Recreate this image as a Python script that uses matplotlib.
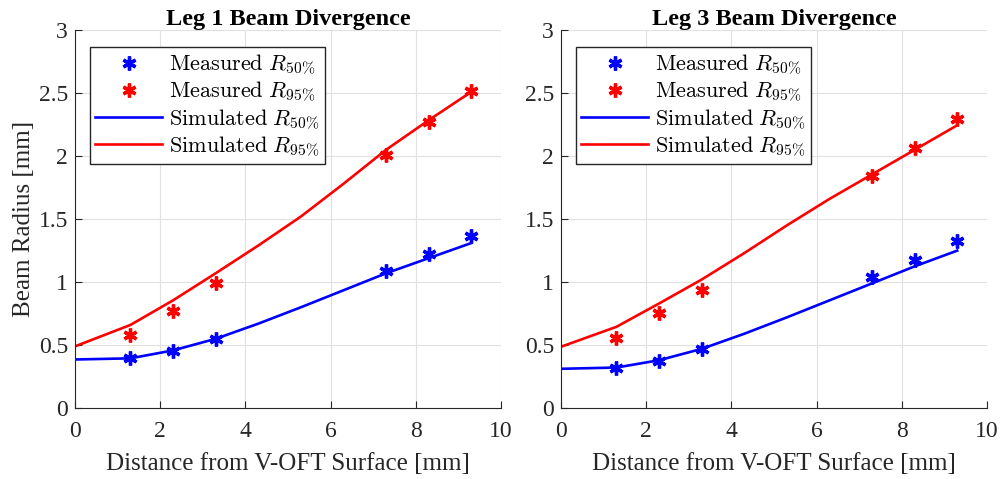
import matplotlib
matplotlib.use("Agg")
from matplotlib import pyplot as plt

plt.rcParams['font.family'] = ['Liberation Serif', 'DejaVu Serif']
plt.rcParams['mathtext.fontset'] = 'cm'

# measured positions and radii
x_meas = [1.3, 2.3, 3.3, 7.3, 8.3, 9.3]
leg1_r50_meas = [0.40, 0.452, 0.548, 1.085, 1.225, 1.365]
leg1_r95_meas = [0.578, 0.77, 0.995, 2.008, 2.27, 2.52]
leg3_r50_meas = [0.316, 0.37, 0.47, 1.04, 1.178, 1.325]
leg3_r95_meas = [0.56, 0.755, 0.94, 1.84, 2.062, 2.295]

# simulated curves
x_sim = [0, 1.3, 2.3, 3.3, 4.3, 5.3, 6.3, 7.3, 8.3, 9.3]
leg1_r50_sim = [0.386, 0.395, 0.458, 0.55, 0.67, 0.8, 0.935, 1.07, 1.19, 1.31]
leg1_r95_sim = [0.49, 0.66, 0.855, 1.07, 1.29, 1.52, 1.78, 2.05, 2.285, 2.51]
leg3_r50_sim = [0.312, 0.322, 0.38, 0.47, 0.59, 0.72, 0.855, 0.99, 1.125, 1.25]
leg3_r95_sim = [0.487, 0.645, 0.83, 1.02, 1.23, 1.45, 1.66, 1.855, 2.05, 2.245]

titles = ['Leg 1 Beam Divergence', 'Leg 3 Beam Divergence']
labels = [r'$\mathrm{Measured}\ R_{50\%}$', r'$\mathrm{Measured}\ R_{95\%}$',
          r'$\mathrm{Simulated}\ R_{50\%}$', r'$\mathrm{Simulated}\ R_{95\%}$']
panels = [
    (leg1_r50_meas, leg1_r95_meas, leg1_r50_sim, leg1_r95_sim),
    (leg3_r50_meas, leg3_r95_meas, leg3_r50_sim, leg3_r95_sim),
]
lefts = [0.075, 0.561]

fig = plt.figure(figsize=(10, 4.79), dpi=100)

for i in range(2):
    r50m, r95m, r50s, r95s = panels[i]
    ax = fig.add_axes([lefts[i], 0.148, 0.426, 0.789])
    ast = (6, 2, 0)
    ax.plot(x_meas, r50m, linestyle='none', marker=ast, color='#0000ff',
            markersize=10, markeredgewidth=2.4, label=labels[0], zorder=3)
    ax.plot(x_meas, r95m, linestyle='none', marker=ast, color='#ff0000',
            markersize=10, markeredgewidth=2.4, label=labels[1], zorder=3)
    ax.plot(x_sim, r50s, color='#0000ff', linewidth=1.9, label=labels[2])
    ax.plot(x_sim, r95s, color='#ff0000', linewidth=1.9, label=labels[3])

    ax.set_xlim(0, 10)
    ax.set_ylim(0, 3)
    ax.set_xticks([0, 2, 4, 6, 8, 10])
    ax.set_yticks([0, 0.5, 1, 1.5, 2, 2.5, 3])
    ax.set_yticklabels(['0', '0.5', '1', '1.5', '2', '2.5', '3'])
    ax.grid(True, color='#e0e0e0', linewidth=0.8)
    ax.set_axisbelow(True)
    ax.spines['top'].set_visible(False)
    ax.spines['right'].set_visible(False)
    ax.spines['left'].set_color('#262626')
    ax.spines['bottom'].set_color('#262626')
    ax.tick_params(direction='in', labelsize=17, colors='#262626', length=5)
    ax.tick_params(axis='x', pad=9)
    ax.tick_params(axis='y', pad=5)
    ax.set_title(titles[i], fontsize=17.5, fontweight='bold', pad=3)
    ax.set_xlabel('Distance from V-OFT Surface [mm]', fontsize=18, color='#262626', labelpad=8)
    if i == 0:
        ax.set_ylabel('Beam Radius [mm]', fontsize=18, color='#262626', labelpad=3)
    leg = ax.legend(loc='upper left', fontsize=16, frameon=True, fancybox=False,
                    edgecolor='#262626', framealpha=1, borderpad=0.25,
                    labelspacing=0.12, handlelength=3.0, handletextpad=0.3,
                    borderaxespad=0, bbox_to_anchor=(0.035, 0.955))
    leg.get_frame().set_linewidth(1.0)

fig.savefig('out.png', dpi=100)
